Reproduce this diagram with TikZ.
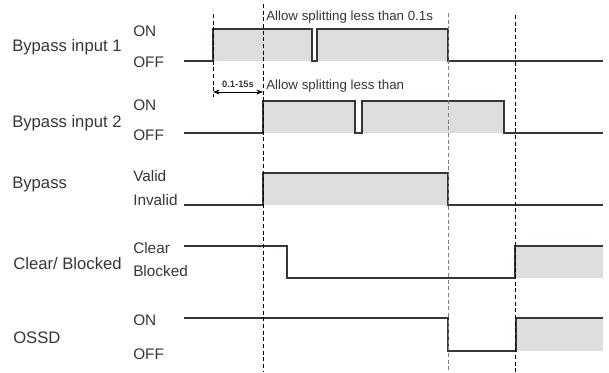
\documentclass[tikz,border=0pt]{standalone}
\usepackage{fontspec}
\setmainfont{Liberation Sans}
\usetikzlibrary{arrows.meta}
\definecolor{sig}{HTML}{3A3532}
\definecolor{hifill}{HTML}{DCDDDD}
\begin{document}
\begin{tikzpicture}[x=0.75pt, y=-0.75pt,
  every node/.style={inner sep=0pt, text=sig},
  signame/.style={anchor=west, font=\fontsize{12.5}{14}\selectfont},
  level/.style={anchor=west, font=\fontsize{11.5}{13}\selectfont},
  note/.style={anchor=west, font=\fontsize{10}{12}\selectfont},
  wave/.style={draw=sig, line width=1.1pt},
  marker/.style={line width=0.6pt, dash pattern=on 3pt off 2pt}]
  \useasboundingbox (0,0) rectangle (609,372);
  % signal names
  \node[signame] (in1) at (12,47) {Bypass input 1};
  \node[signame] (in2) at (12,123) {Bypass input 2};
  \node[signame] (byp) at (12,184) {Bypass};
  \node[signame] (clr) at (13,264) {Clear/ Blocked};
  \node[signame] (ossd) at (13,338) {OSSD};
  % levels
  \node[level] (in1on) at (133,31) {ON};
  \node[level] (in1off) at (133,62) {OFF};
  \node[level] (in2on) at (133,105) {ON};
  \node[level] (in2off) at (133,135) {OFF};
  \node[level] (valid) at (133,176) {Valid};
  \node[level] (invalid) at (133,200) {Invalid};
  \node[level] (clear) at (133,248) {Clear};
  \node[level] (blocked) at (133,271) {Blocked};
  \node[level] (ossdon) at (133,320) {ON};
  \node[level] (ossdoff) at (133,354) {OFF};
  % shaded high phases
  \fill[hifill] (213,61) -- (213,29) -- (312,29) -- (312,61) -- (317,61) -- (317,29) -- (448,29) -- (448,61) -- cycle;
  \fill[hifill] (263,133) -- (263,101) -- (355,101) -- (355,133) -- (362,133) -- (362,101) -- (504,101) -- (504,133) -- cycle;
  \fill[hifill] (263,173) rectangle (448,205);
  \fill[hifill] (515,246) rectangle (603,278);
  \fill[hifill] (516,318) rectangle (603,351);
  % waveforms
  \draw[wave] (184,61) -- (213,61) -- (213,29) -- (312,29) -- (312,61) -- (317,61) -- (317,29) -- (448,29) -- (448,61) -- (603,61);
  \draw[wave] (184,133) -- (263,133) -- (263,101) -- (355,101) -- (355,133) -- (362,133) -- (362,101) -- (504,101) -- (504,133) -- (603,133);
  \draw[wave] (184,205) -- (263,205) -- (263,173) -- (448,173) -- (448,205) -- (603,205);
  \draw[wave] (184,246) -- (287,246) -- (287,278) -- (515,278) -- (515,246) -- (603,246);
  \draw[wave] (184,318) -- (448,318) -- (448,351) -- (516,351) -- (516,318) -- (603,318);
  % time markers
  \draw[marker] (213,14) -- (213,97);
  \draw[marker] (263,4) -- (263,372);
  \draw[marker, gray] (448,13) -- (448,372);
  \draw[marker] (515,15) -- (515,372);
  % notes
  \coordinate (t0) at (213,92);
  \coordinate (t1) at (263,92);
  \draw[{Stealth[length=5pt]}-{Stealth[length=5pt]}, line width=0.6pt] (t0) -- (t1);
  \node[font=\fontsize{7}{8}\selectfont\bfseries] (delay) at (238,84) {0.1-15s};
  \node[note] (split1) at (266,17) {Allow splitting less than 0.1s};
  \node[note] (split2) at (266,86) {Allow splitting less than};
\end{tikzpicture}
\end{document}
